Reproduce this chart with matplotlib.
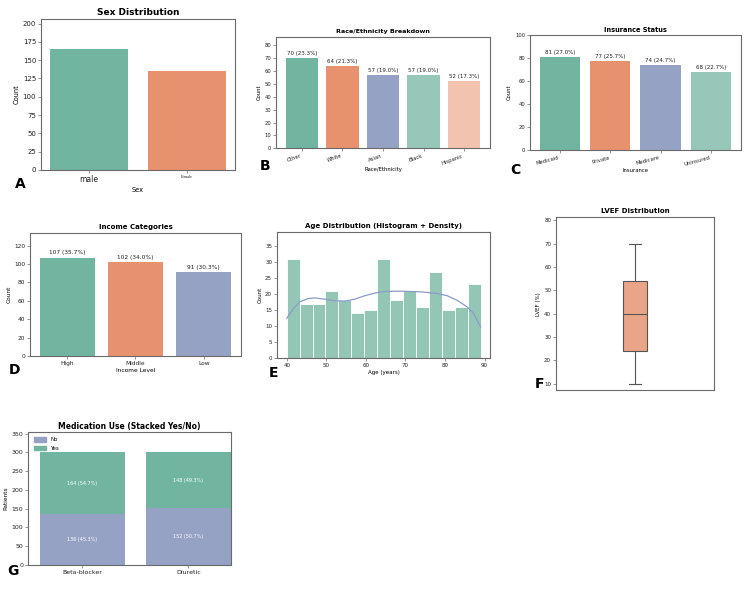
import matplotlib
matplotlib.use('Agg')
import matplotlib.pyplot as plt
import numpy as np
from matplotlib.patches import Patch

# data
sex_labels = ['male', 'Female']
sex_counts = [165, 135]

race_labels = ['Other', 'White', 'Asian', 'Black', 'Hispanic']
race_counts = [70, 64, 57, 57, 52]

ins_labels = ['Medicaid', 'Private', 'Medicare', 'Uninsured']
ins_counts = [81, 77, 74, 68]

inc_labels = ['High', 'Middle', 'Low']
inc_counts = [107, 102, 91]

age_counts = [31, 17, 17, 21, 18, 14, 15, 31, 18, 21, 16, 27, 15, 16, 23]
age_min, age_max = 40, 89
kde_x = [40, 41.6, 43.3, 45.4, 47.1, 49.6, 52.2, 54.7, 57.2, 59.8, 62.3, 64.8,
         68.6, 73.7, 77.9, 80.5, 83.0, 85.6, 87.2, 89]
kde_y = [12.4, 15.3, 17.6, 18.6, 18.8, 18.4, 17.9, 17.8, 18.4, 19.5, 20.3, 20.8,
         20.9, 20.7, 20.2, 19.5, 18.1, 16.0, 14.0, 9.8]

lvef_stats = dict(whislo=10, q1=24, med=40, q3=54, whishi=70)

med_labels = ['Beta-blocker', 'Diuretic']
med_no = [136, 152]
med_yes = [164, 148]

N = 300

GREEN = '#71b5a0'
ORANGE = '#e8916f'
BLUE = '#95a2c4'
LGREEN = '#97c7b8'
LORANGE = '#f2c4b0'
SPINE = '#6a6a6a'
TXT = '#222222'

W, H = 750, 599
fig = plt.figure(figsize=(7.5, 5.99), dpi=100)


def make_ax(l, t, r, b):
    ax = fig.add_axes([l / W, (H - b) / H, (r - l) / W, (b - t) / H])
    for s in ax.spines.values():
        s.set_color(SPINE)
        s.set_linewidth(0.8)
    ax.tick_params(length=2, width=0.5, colors=SPINE, labelcolor=TXT, pad=1.5)
    return ax


def bar_labels(ax, counts, fs):
    for i, c in enumerate(counts):
        ax.annotate(f'{c} ({c / N * 100:.1f}%)', (i, c), xytext=(0, 1.5),
                    textcoords='offset points', ha='center', va='bottom',
                    fontsize=fs, color=TXT)


def letter(x, y, s):
    fig.text(x / W, (H - y) / H, s, fontsize=10, fontweight='bold',
             ha='center', va='center')


# A - sex
ax = make_ax(41, 19, 235, 170)
x = np.arange(len(sex_labels))
ax.bar(x, sex_counts, width=0.8, color=[GREEN, ORANGE])
ax.set_ylim(0, max(sex_counts) * 1.25)
ax.set_xticks(x)
ax.set_xticklabels(sex_labels)
ax.tick_params(labelsize=5)
ax.get_xticklabels()[0].set_fontsize(5.5)
ax.get_xticklabels()[1].set_fontsize(3)
ax.get_xticklabels()[1].set_family('Liberation Serif')
ax.set_title('Sex Distribution', fontsize=6.5, fontweight='bold', pad=3)
ax.set_ylabel('Count', fontsize=4.8, labelpad=2)
ax.set_xlabel('Sex', fontsize=4.8, labelpad=2)
letter(20, 184, 'A')

# B - race
ax = make_ax(276, 36.7, 490, 148.3)
x = np.arange(len(race_labels))
ax.bar(x, race_counts, width=0.8, color=[GREEN, ORANGE, BLUE, LGREEN, LORANGE])
ax.set_ylim(0, max(race_counts) * 1.24)
bar_labels(ax, race_counts, 4)
ax.set_xticks(x)
ax.set_xticklabels(race_labels, rotation=20, ha='right')
ax.tick_params(labelsize=3.8)
ax.set_title('Race/Ethnicity Breakdown', fontsize=4.6, fontweight='bold', pad=3)
ax.set_ylabel('Count', fontsize=3.8, labelpad=2)
ax.set_xlabel('Race/Ethnicity', fontsize=3.8, labelpad=1)
letter(265, 166, 'B')

# C - insurance
ax = make_ax(530, 35, 740.7, 150)
x = np.arange(len(ins_labels))
ax.bar(x, ins_counts, width=0.8, color=[GREEN, ORANGE, BLUE, LGREEN])
ax.set_ylim(0, 100)
bar_labels(ax, ins_counts, 4)
ax.set_xticks(x)
ax.set_xticklabels(ins_labels, rotation=15, ha='right')
ax.tick_params(labelsize=3.8)
ax.set_title('Insurance Status', fontsize=4.8, fontweight='bold', pad=2)
ax.set_ylabel('Count', fontsize=3.8, labelpad=2)
ax.set_xlabel('Insurance', fontsize=3.8, labelpad=1)
letter(515, 170, 'C')

# D - income
ax = make_ax(30.3, 233.3, 240.7, 356.3)
x = np.arange(len(inc_labels))
ax.bar(x, inc_counts, width=0.8, color=[GREEN, ORANGE, BLUE])
ax.set_ylim(0, max(inc_counts) * 1.245)
bar_labels(ax, inc_counts, 4.2)
ax.set_xticks(x)
ax.set_xticklabels(inc_labels)
ax.tick_params(labelsize=4.2)
ax.set_title('Income Categories', fontsize=5, fontweight='bold', pad=3)
ax.set_ylabel('Count', fontsize=4.2, labelpad=2)
ax.set_xlabel('Income Level', fontsize=4.2, labelpad=1)
letter(15, 370, 'D')

# E - age histogram + density
ax = make_ax(277, 232.3, 490.3, 358.3)
edges = np.linspace(age_min, age_max, len(age_counts) + 1)
ax.bar(edges[:-1], age_counts, width=np.diff(edges), align='edge',
       color='#94c6b6', edgecolor='white', linewidth=0.6)
ax.plot(kde_x, kde_y, color='#8b9bc8', linewidth=0.9)
ax.set_ylim(0, max(age_counts) * 1.265)
ax.set_xlim(age_min - 0.05 * (age_max - age_min), age_max + 0.05 * (age_max - age_min))
ax.set_yticks(range(0, 36, 5))
ax.tick_params(labelsize=4)
ax.set_title('Age Distribution (Histogram + Density)', fontsize=5, fontweight='bold', pad=3)
ax.set_ylabel('Count', fontsize=4, labelpad=2)
ax.set_xlabel('Age (years)', fontsize=4, labelpad=1)
letter(273, 373, 'E')

# F - LVEF box
ax = make_ax(556, 217.3, 714.3, 390.3)
ax.bxp([lvef_stats], positions=[1], widths=0.155, showfliers=False, patch_artist=True,
       boxprops=dict(facecolor='#eaa487', edgecolor='#555555', linewidth=0.8),
       medianprops=dict(color='#555555', linewidth=0.8),
       whiskerprops=dict(color='#555555', linewidth=0.8),
       capprops=dict(color='#555555', linewidth=0.8))
ax.set_xlim(0.5, 1.5)
ax.set_ylim(7.2, 81.3)
ax.set_xticks([])
ax.tick_params(labelsize=4)
ax.set_title('LVEF Distribution', fontsize=5, fontweight='bold', pad=3)
ax.set_ylabel('LVEF (%)', fontsize=4, labelpad=2)
letter(540, 384, 'F')

# G - medication stacked
ax = make_ax(28, 431.7, 231, 564.7)
x = np.arange(len(med_labels))
ax.bar(x, med_no, width=0.8, color=BLUE)
ax.bar(x, med_yes, width=0.8, bottom=med_no, color=GREEN)
for i in range(len(med_labels)):
    ax.text(i, med_no[i] / 2, f'{med_no[i]} ({med_no[i] / N * 100:.1f}%)',
            ha='center', va='center', fontsize=3.5, color='white')
    ax.text(i, med_no[i] + med_yes[i] / 2, f'{med_yes[i]} ({med_yes[i] / N * 100:.1f}%)',
            ha='center', va='center', fontsize=3.5, color='white')
ax.set_xlim(-0.51, 1.4)
ax.set_ylim(0, 355)
ax.set_xticks(x)
ax.set_xticklabels(med_labels)
ax.tick_params(labelsize=4.5)
ax.set_title('Medication Use (Stacked Yes/No)', fontsize=5.5, fontweight='bold', pad=2)
ax.set_ylabel('Patients', fontsize=4.2, labelpad=2)
ax.legend(handles=[Patch(color=BLUE, label='No'), Patch(color=GREEN, label='Yes')],
          loc='upper left', fontsize=4, frameon=False, handlelength=2.2,
          handleheight=0.8, borderaxespad=0.6, labelspacing=0.7)
letter(13, 571, 'G')

fig.savefig('out.png', dpi=100)
